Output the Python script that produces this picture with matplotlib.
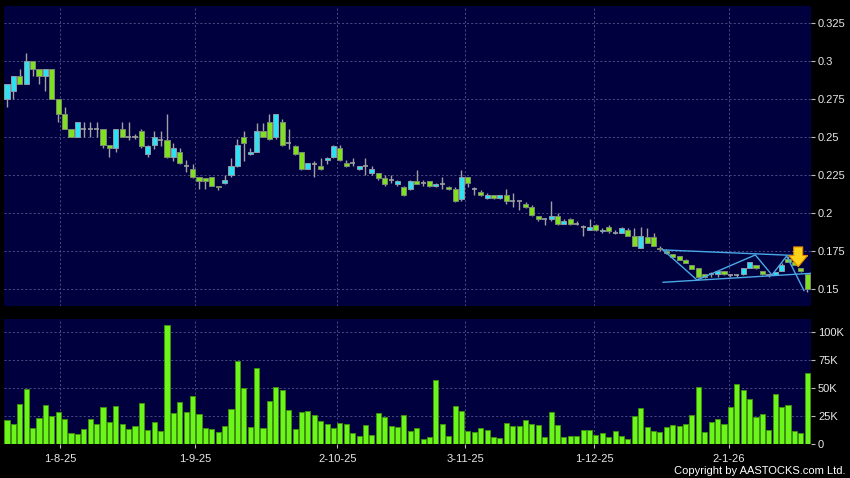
import numpy as np
import matplotlib
matplotlib.use("Agg")
import matplotlib.pyplot as plt
from matplotlib.ticker import FixedLocator, FuncFormatter

plt.rcParams['font.family'] = ['Liberation Sans', 'DejaVu Sans']

# daily OHLC (one entry per trading day)
opens = [.275, .280, .290, .285, .300, .295, .290, .295, .275, .265,
         .255, .250, .255, .255, .255, .255, .245, .243, .255, .250,
         .250, .254, .239, .245, .248, .248, .237, .240, .231, .229,
         .224, .223, .224, .218, .220, .225, .231, .250, .239, .240,
         .254, .260, .250, .260, .246, .244, .240, .229, .232, .231,
         .235, .237, .243, .233, .233, .229, .231, .226, .226, .223,
         .222, .219, .217, .216, .221, .220, .221, .218, .219, .217,
         .216, .209, .224, .216, .214, .210, .212, .210, .212, .208,
         .208, .206, .204, .198, .196, .196, .198, .193, .196, .193,
         .191, .189, .192, .188, .191, .187, .187, .189, .185, .177,
         .184, .184, .177, .175, .173, .172, .169, .166, .164, .160,
         .160, .160, .162, .159, .159, .160, .164, .166, .162, .159,
         .159, .162, .170, .168, .164, .160]
closes = [.285, .290, .285, .300, .295, .290, .295, .275, .265, .255,
          .250, .260, .255, .255, .255, .245, .243, .255, .250, .250,
          .250, .244, .244, .250, .248, .237, .243, .233, .231, .224,
          .221, .221, .218, .217, .222, .231, .245, .246, .240, .254,
          .250, .249, .265, .245, .246, .239, .229, .233, .232, .229,
          .236, .244, .235, .231, .233, .231, .231, .229, .223, .219,
          .222, .221, .212, .221, .219, .220, .218, .219, .219, .216,
          .208, .224, .220, .216, .212, .212, .210, .212, .208, .208,
          .208, .204, .199, .196, .196, .198, .193, .195, .193, .193,
          .191, .191, .189, .189, .188, .187, .190, .185, .178, .185,
          .180, .178, .176, .174, .171, .169, .167, .163, .158, .158,
          .160, .162, .160, .159, .159, .164, .168, .164, .160, .159,
          .161, .166, .168, .166, .162, .150]
highs = [.285, .290, .295, .305, .300, .295, .295, .295, .275, .270,
         .255, .260, .260, .260, .260, .255, .245, .255, .260, .260,
         .252, .255, .245, .254, .254, .265, .246, .243, .235, .232,
         .224, .223, .224, .218, .225, .236, .249, .254, .243, .259,
         .259, .265, .265, .262, .255, .245, .240, .233, .234, .236,
         .237, .245, .245, .235, .236, .231, .236, .231, .226, .225,
         .225, .222, .218, .222, .228, .222, .221, .220, .224, .218,
         .217, .228, .224, .217, .215, .213, .212, .212, .216, .213,
         .208, .207, .205, .198, .197, .208, .200, .196, .197, .195,
         .192, .196, .193, .190, .192, .189, .191, .190, .190, .191,
         .190, .187, .178, .176, .173, .172, .170, .166, .164, .160,
         .161, .162, .162, .160, .160, .164, .168, .166, .162, .160,
         .161, .167, .172, .168, .164, .160]
lows = [.270, .275, .285, .285, .290, .285, .280, .275, .260, .255,
        .250, .250, .250, .250, .250, .243, .237, .240, .250, .248,
        .249, .243, .237, .242, .244, .236, .234, .232, .227, .223,
        .216, .216, .218, .215, .219, .224, .230, .234, .238, .240,
        .250, .248, .249, .244, .242, .238, .228, .229, .224, .228,
        .232, .236, .234, .230, .231, .228, .225, .225, .222, .218,
        .220, .218, .211, .215, .219, .218, .217, .217, .216, .215,
        .207, .208, .217, .212, .211, .209, .209, .209, .206, .204,
        .202, .203, .198, .195, .192, .195, .192, .193, .192, .192,
        .185, .189, .188, .187, .187, .186, .187, .185, .178, .177,
        .180, .178, .175, .173, .171, .169, .167, .163, .157, .157,
        .158, .158, .159, .158, .158, .159, .164, .163, .159, .158,
        .159, .162, .168, .166, .161, .148]
# volume in thousands of shares
volumes = [21.4, 17.9, 36, 49, 14.3, 23.5, 35, 25, 28.6, 22.3,
           9.5, 8.6, 13.4, 22.3, 17.9, 33, 19.3, 34.2, 17.6, 13.7,
           16.4, 36.3, 12.8, 19.6, 11.9, 106.2, 28, 37.2, 28.3, 42.9,
           26.8, 14.3, 13.1, 11, 15.8, 31.2, 74.4, 49.7, 15.2, 68.2,
           14, 38.7, 50.9, 48.5, 30.4, 13.7, 28.6, 29.8, 25.9, 20.5,
           17.6, 14, 19, 17.9, 9.8, 7.1, 17.3, 8, 27.4, 24.4,
           15.8, 15.5, 25.6, 11.9, 14, 4.5, 6.5, 57.1, 17.6, 7.4,
           33.6, 29.2, 11.9, 10.4, 14.3, 12.5, 6.2, 5.4, 18.8, 16.1,
           16.1, 21.4, 17.6, 17, 6.2, 28.9, 17, 6.2, 7.4, 7.4,
           12.5, 12.2, 8, 9.5, 6.2, 11.9, 7.4, 4.2, 25.3, 32.4,
           15.5, 11.6, 10.7, 15.5, 16.7, 15.8, 17.6, 25.9, 51.2, 11,
           19.9, 22, 17.9, 33, 53.9, 48.2, 40.5, 24.4, 26.5, 12.5,
           44.9, 33.3, 35.1, 11.6, 10.1, 63.4]

date_labels = ['1-8-25', '1-9-25', '2-10-25', '3-11-25', '1-12-25', '2-1-26']
date_pos = [8.3, 29.4, 51.6, 71.6, 91.7, 112.8]   # bar index of each month start
price_ticks = [0.15, 0.175, 0.2, 0.225, 0.25, 0.275, 0.3, 0.325]
vol_ticks = [0, 25, 50, 75, 100]

# user drawn pattern lines (bar index, price)
upper_line = ([102.5, 125.0], [0.1757, 0.1717])
lower_line = ([102.5, 125.6], [0.1544, 0.1603])
zigzag = ([102.5, 107.8, 116.9, 119.5, 121.8, 124.5],
          [0.1757, 0.1559, 0.1724, 0.1592, 0.1717, 0.1490])

BG = '#00003e'
UP = '#2ee0f2'
DOWN = '#7ee01e'
FLAT = '#a0a0a0'
GRID = '#55558a'
TXT = '#e8e8e8'

o = np.array(opens); c = np.array(closes)
h = np.array(highs); l = np.array(lows)
x = np.arange(len(o))

fig = plt.figure(figsize=(8.5, 4.78), dpi=100, facecolor='black')
ax = fig.add_axes([4/850, 1-306/478, 807/850, 300/478])
axv = fig.add_axes([4/850, 1-444/478, 807/850, 125/478], sharex=ax)

for a in (ax, axv):
    a.set_facecolor(BG)
    for s in a.spines.values():
        s.set_visible(False)
    a.yaxis.tick_right()
    a.tick_params(axis='y', colors='#bbbbbb', labelcolor=TXT, labelsize=8,
                  length=3, width=0.8, pad=2)
    a.grid(True, color=GRID, linestyle=(0, (2.5, 2.5)), linewidth=0.6)
    a.set_axisbelow(True)

# candles
ax.vlines(x, l, h, color=FLAT, linewidth=1, zorder=2)
up = c > o
dn = c < o
fl = c == o
w = 0.8
ax.bar(x[up], (c - o)[up], bottom=o[up], width=w, color=UP,
       edgecolor='#8c9aa8', linewidth=0.7, zorder=3)
ax.bar(x[dn], (o - c)[dn], bottom=c[dn], width=w, color=DOWN,
       edgecolor='#7a8a70', linewidth=0.7, zorder=3)
ax.hlines(c[fl], x[fl] - w/2, x[fl] + w/2, color=FLAT, linewidth=1.2, zorder=3)

# pattern lines
for xs, ys in (upper_line, lower_line, zigzag):
    ax.plot(xs, ys, color='#4aa8e6', linewidth=1, zorder=4)

ax.annotate('', xy=(123.6, 0.1628), xytext=(123.6, 0.1795),
            arrowprops=dict(arrowstyle='simple,head_length=0.45,head_width=0.75,tail_width=0.36',
                            mutation_scale=18, fc='#ffd21a', ec='#e08a00', lw=0.8),
            zorder=5)

ax.set_ylim(0.1388, 0.3362)
ax.set_xlim(-0.47, 125.6)
ax.yaxis.set_major_locator(FixedLocator(price_ticks))
ax.yaxis.set_major_formatter(FuncFormatter(lambda v, p: '%g' % round(v, 3)))
ax.xaxis.set_major_locator(FixedLocator(date_pos))
ax.tick_params(axis='x', length=0, labelbottom=False)

# volume
axv.bar(x, volumes, width=w, color='#6cf51a', edgecolor='#3f8f10',
        linewidth=0.7, zorder=3)
axv.set_ylim(0, 111.6)
axv.yaxis.set_major_locator(FixedLocator(vol_ticks))
axv.yaxis.set_major_formatter(FuncFormatter(lambda v, p: '0' if v == 0 else '%dK' % v))
axv.set_xticks(date_pos)
axv.set_xticklabels(date_labels)
axv.tick_params(axis='x', colors='#bbbbbb', labelcolor=TXT, labelsize=8,
                length=3, width=0.8, pad=4)

fig.text(846/850, 1-471/478, 'Copyright by AASTOCKS.com Ltd.', color='white',
         fontsize=8, ha='right', va='center')

fig.savefig('out.png', dpi=100, facecolor='black')
